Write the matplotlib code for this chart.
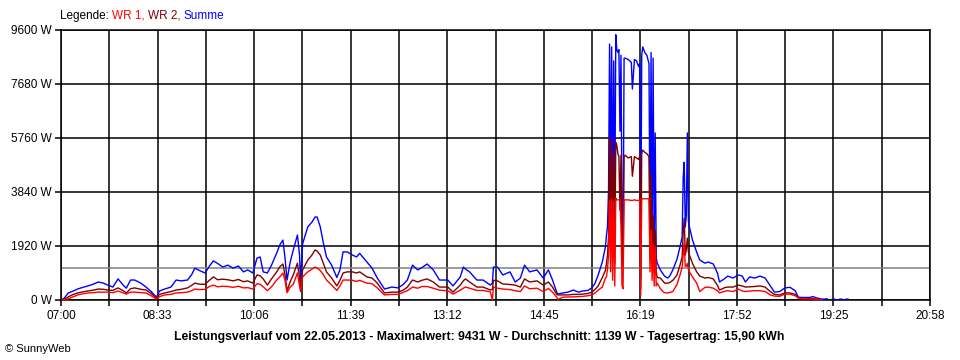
import numpy as np
import matplotlib
matplotlib.use("Agg")
import matplotlib.pyplot as plt

nan = np.nan

# minutes after 07:00
minutes = [0, 3, 7, 12, 16, 21, 26, 31, 36, 41, 45, 50, 55, 60, 63, 67, 71, 77, 82, 87,
           92, 95, 100, 106, 111, 116, 122, 126, 129, 134, 139, 143, 147, 151, 156, 161, 166, 171, 176, 180,
           185, 189, 192, 195, 199, 203, 208, 211, 214, 216, 218, 221, 224, 228, 230, 231, 233, 238, 242, 245,
           247, 250, 253, 256, 261, 266, 269, 272, 276, 281, 285, 288, 295, 300, 305, 309, 312, 319, 325, 330,
           334, 339, 344, 348, 353, 359, 365, 373, 378, 385, 388, 390, 394, 401, 407, 414, 416, 417, 421, 426,
           433, 438, 443, 447, 452, 459, 465, 470, 474, 478, 479, 484, 489, 494, 499, 503, 508, 512, 515, 518,
           522, 525, 526, 527, 528, 529, 530, 531, 532, 533, 534, 535, 536, 537, 538, 539, 540, 541, 542, 543,
           544, 547, 550, 551, 553, 555, 557, 558, 559, 560, 561, 563, 565, 567, 568, 569, 570, 571, 572, 573,
           574, 575, 578, 581, 582, 585, 587, 590, 594, 597, 599, 600, 601, 602, 603, 604, 605, 606, 609, 613,
           616, 621, 624, 629, 633, 635, 640, 643, 648, 653, 657, 660, 664, 669, 674, 679, 684, 688, 693, 698,
           703, 708, 711, 715, 722, 725, 729, 734, 738, 739, 740, 744, 746, 747, 751, 753, 754, 757, 759]

summe = [0, 60, 250, 320, 390, 450, 500, 560, 640, 600, 530, 460, 750, 530, 420, 710, 710, 600, 460, 300,
         100, 320, 390, 460, 710, 680, 710, 900, 1130, 1040, 960, 1200, 1390, 1300, 1170, 1240, 1130, 1210, 1000, 1070,
         960, 1490, 1530, 1000, 960, 1240, 1670, 1960, 2130, 1500, 710, 1350, 1780, 2310, 1600, 700, 2000, 2600, 2770, 2950,
         2950, 2600, 2030, 1530, 1240, 800, 1070, 1710, 1710, 1600, 1530, 1660, 1350, 1130, 780, 560, 390, 460, 430, 550,
         710, 1240, 1070, 1150, 1280, 1070, 710, 710, 500, 820, 1170, 1100, 1000, 710, 710, 530, 600, 1170, 1170, 890,
         1000, 640, 780, 1240, 1000, 1070, 780, 1070, 710, 280, 210, 250, 280, 355, 280, 320, 340, 430, 600, 890,
         1350, 1890, 2300, 2600, 3900, 9100, 4000, 9000, 3000, 8500, 2800, 9431, 8900, 8800, 8900, 6000, 8700, 3000, 1530, 8600,
         8600, 8550, 8450, 7500, 8550, 8500, 8300, 8400, 800, 8700, 9000, 8800, 8700, 8400, 2200, 8800, 2000, 8600, 1800, 5940,
         1500, 1310, 1070, 900, 850, 780, 850, 1070, 1450, 1900, 2240, 4370, 4900, 2600, 3000, 5940, 2800, 2600, 2130, 1700,
         1420, 1310, 1350, 1280, 960, 640, 760, 850, 780, 890, 850, 640, 820, 780, 850, 780, 500, 280, 300, 430,
         450, 330, 100, 90, 90, 120, 70, 30, 40, 40, nan, 30, 30, nan, 30, 30, nan, 30, 30]

wr2 = [0, 20, 110, 200, 250, 290, 320, 350, 390, 380, 355, 340, 430, 330, 250, 400, 430, 380, 355, 230,
       70, 200, 250, 300, 355, 380, 430, 520, 600, 560, 560, 700, 820, 720, 740, 720, 680, 730, 650, 680,
       600, 890, 860, 750, 530, 750, 1000, 1180, 1280, 900, 330, 650, 900, 1310, 800, 460, 1070, 1420, 1600, 1780,
       1740, 1600, 1300, 1000, 780, 500, 700, 960, 1000, 1000, 960, 1000, 820, 780, 600, 400, 250, 280, 280, 350,
       460, 710, 640, 700, 750, 640, 460, 460, 280, 530, 680, 750, 640, 460, 460, 355, 380, 700, 680, 570,
       550, 530, 460, 750, 640, 680, 530, 640, 460, 200, 180, 180, 180, 200, 200, 210, 230, 280, 380, 500,
       800, 1050, 1300, 1600, 2240, 5800, 2500, 5700, 1500, 5200, 1300, 5600, 5500, 5200, 5100, 3200, 5150, 1400, 1200, 5100,
       5150, 5050, 5100, 4400, 5100, 5050, 5000, 5100, 400, 5200, 5330, 5250, 5200, 5100, 1500, 4500, 1300, 3000, 1000, 2500,
       1000, 800, 780, 650, 600, 600, 620, 700, 890, 1250, 1530, 2400, 2910, 1600, 1800, 2200, 1700, 1600, 1300, 1000,
       850, 780, 800, 750, 520, 355, 440, 460, 460, 530, 500, 460, 470, 480, 500, 460, 300, 200, 180, 250,
       250, 200, 70, 60, 50, 50, 30, 10, nan, nan, nan, nan, nan, nan, nan, nan, nan, nan, nan]

wr1 = [0, 10, 40, 120, 180, 220, 250, 260, 280, 280, 280, 260, 320, 250, 210, 280, 280, 260, 250, 150,
       35, 120, 180, 200, 250, 260, 280, 330, 390, 370, 380, 480, 530, 470, 490, 480, 450, 490, 430, 440,
       390, 580, 560, 470, 330, 470, 710, 820, 960, 700, 260, 460, 560, 960, 500, 300, 820, 1000, 1100, 1170,
       1130, 1050, 900, 710, 530, 340, 500, 710, 710, 700, 660, 700, 600, 580, 430, 280, 180, 200, 200, 270,
       330, 460, 420, 480, 480, 420, 350, 330, 210, 350, 420, 460, 420, 340, 340, 290, 0, 460, 420, 390,
       370, 330, 300, 500, 400, 420, 300, 410, 280, 100, 20, 100, 110, 110, 120, 130, 150, 180, 250, 350,
       460, 780, 820, 1100, 1600, 3550, 1000, 3600, 700, 3500, 500, 3620, 3560, 3560, 3560, 3560, 2600, 500, 400, 3560,
       3560, 3560, 3540, 3540, 3560, 3540, 3540, 3560, 150, 3600, 3600, 3600, 3600, 3600, 1000, 2490, 700, 2000, 500, 1900,
       500, 600, 400, 280, 260, 250, 270, 300, 550, 900, 1170, 1600, 2030, 1200, 1200, 1300, 1100, 1000, 820, 600,
       300, 450, 460, 420, 330, 250, 310, 330, 300, 390, 320, 300, 320, 330, 330, 300, 180, 140, 130, 210,
       210, 150, 70, 50, 40, 40, 20, 10, nan, nan, nan, nan, nan, nan, nan, nan, nan, nan, nan]

average = 1139
x_tick_labels = ["07:00", "08:33", "10:06", "11:39", "13:12", "14:45", "16:19", "17:52", "19:25", "20:58"]
y_ticks = [0, 1920, 3840, 5760, 7680, 9600]
title = ("Leistungsverlauf vom 22.05.2013 - Maximalwert: 9431 W - Durchschnitt: 1139 W - "
         "Tagesertrag: 15,90 kWh")

plt.rcParams['font.family'] = ['Liberation Sans', 'DejaVu Sans']

fig = plt.figure(figsize=(9.6, 3.6), dpi=100)
ax = fig.add_axes([61 / 960, 1 - 300 / 360, (930 - 61) / 960, 270 / 360])

t = np.array(minutes, dtype=float)
total = 838.0
n_grid = 18
vgrid = np.linspace(0, total, n_grid + 1)

for v in vgrid:
    ax.axvline(v, color='black', lw=1.1, zorder=1)
for h in y_ticks:
    ax.axhline(h, color='black', lw=1.1, zorder=1)
ax.axhline(average, color='#808080', lw=1.1, zorder=2)

ax.plot(t, summe, color='#0000FF', lw=1.0, zorder=3)
ax.plot(t, wr2, color='#800000', lw=1.0, zorder=4)
ax.plot(t, wr1, color='#FF0000', lw=1.0, zorder=5)

ax.set_xlim(0, total)
ax.set_ylim(0, 9600)
ax.set_xticks(vgrid)
ax.set_xticklabels([x_tick_labels[i // 2] if i % 2 == 0 else "" for i in range(n_grid + 1)])
ax.set_yticks(y_ticks)
ax.set_yticklabels([f"{v} W" for v in y_ticks])
ax.tick_params(axis='x', length=4, width=1.1, pad=3, labelsize=8.5, colors='black')
ax.tick_params(axis='y', length=4.5, width=1.1, pad=2, labelsize=8.5, colors='black')
for s in ax.spines.values():
    s.set_linewidth(1.1)
    s.set_color('black')

# legend text
parts = [("Legende: ", 'black'), ("WR 1, ", '#FF0000'), ("WR 2, ", '#800000'), ("Summe", '#0000FF')]
x0 = 60 / 960
renderer = fig.canvas.get_renderer()
for txt, col in parts:
    tt = fig.text(x0, 1 - 16 / 360, txt, color=col, fontsize=8.5, va='center', ha='left')
    bb = tt.get_window_extent(renderer=renderer)
    x0 += bb.width / 960

fig.text(479 / 960, 1 - 337 / 360, title, fontsize=8.8, fontweight='bold', ha='center', va='center')
fig.text(5 / 960, 1 - 349 / 360, "© SunnyWeb", fontsize=8, ha='left', va='center')

fig.savefig("out.png", dpi=100, facecolor='white')
